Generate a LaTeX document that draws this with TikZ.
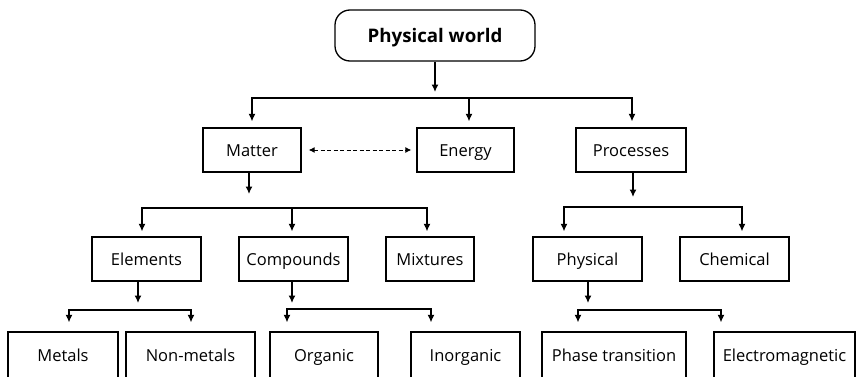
\documentclass[tikz,border=0pt]{standalone}
\usepackage{fontspec}
\setmainfont{Open Sans}
\usetikzlibrary{arrows.meta,positioning}

\begin{document}
\begin{tikzpicture}[
    x=1pt, y=1pt,
    >={Latex[length=7.5pt,width=7pt]},
    font=\fontsize{16.5}{20}\selectfont,
    block/.style={
		rectangle,
		draw=black,
		line width=1.3pt,
		text centered,
		text height=12pt,
		text depth=0pt,
		minimum height=44pt,
		inner sep=0pt,
		fill=white
	},
	root/.style={
		block,
		rounded corners=15pt,
		minimum width=200pt,
		minimum height=51pt,
		text height=13.5pt,
		font=\fontsize{18.7}{22}\selectfont\bfseries
	},
	leaf/.style={
		block,
		minimum height=46pt
	},
	link/.style={
		line width=1.3pt
	}
  ]
  \useasboundingbox (0,0) rectangle (856,376);

  % We start by placing the blocks
  \node [root] (world) at (435,340.5) {Physical world};

  \node [block, minimum width=98pt] (matter) at (252,226) {Matter};
  \node [block, minimum width=97pt] (energy) at (465.5,226) {Energy};
  \node [block, minimum width=110pt] (processes) at (631,226) {Processes};

  \node [block, minimum width=109pt] (elements) at (146.5,117) {Elements};
  \node [block, minimum width=109pt] (compounds) at (293.5,117) {Compounds};
  \node [block, minimum width=88pt] (mixtures) at (430,117) {Mixtures};
  \node [block, minimum width=109pt] (physical) at (587.5,117) {Physical};
  \node [block, minimum width=109pt] (chemical) at (734.5,117) {Chemical};

  \node [leaf, minimum width=110pt] (metals) at (63,21) {Metals};
  \node [leaf, minimum width=129pt] (nonmetals) at (190.5,21) {Non-metals};
  \node [leaf, minimum width=108pt] (organic) at (324,21) {Organic};
  \node [leaf, minimum width=109pt] (inorganic) at (465.5,21) {Inorganic};
  \node [leaf, minimum width=144pt] (phase) at (614,21) {Phase transition};
  \node [leaf, minimum width=141pt] (electro) at (784.5,21) {Electromagnetic};

  % the bars the arrows hang from
  \coordinate (bar1) at (435,278);
  \coordinate (bar2) at (249,168);
  \coordinate (bar3) at (633,169);
  \coordinate (bar4) at (138,66);
  \coordinate (bar5) at (292,67);
  \coordinate (bar6) at (588,66);

  % drops from the parents
  \draw [link,->, shorten >=6pt] (world.south) -- (bar1);
  \draw [link,->, shorten >=14pt] (matter.south -| bar2) -- (bar2);
  \draw [link,->, shorten >=10pt] (processes.south -| bar3) -- (bar3);
  \draw [link,->, shorten >=7pt] (elements.south -| bar4) -- (bar4);
  \draw [link,->, shorten >=6pt] (compounds.south -| bar5) -- (bar5);
  \draw [link,->, shorten >=7pt] (physical.south -| bar6) -- (bar6);

  % bars down to the children
  \draw [link,<->, shorten <=6pt, shorten >=6pt] (matter.north) |- (bar1) -| ([xshift=1pt]processes.north);
  \draw [link,<-, shorten <=6pt] ([xshift=3.5pt]energy.north) |- (bar1);

  \draw [link,<->, shorten <=5pt, shorten >=5pt] ([xshift=-4.5pt]elements.north) |- (bar2) -| ([xshift=-3pt]mixtures.north);
  \draw [link,<-, shorten <=5pt] ([xshift=-1.5pt]compounds.north) |- (bar2);

  \draw [link,<->, shorten <=5pt, shorten >=5pt] ([xshift=-23.5pt]physical.north) |- (bar3) -| ([xshift=7.5pt]chemical.north);

  \draw [link,<->, shorten <=9pt, shorten >=9pt] ([xshift=6pt]metals.north) |- (bar4) -| ([xshift=0.5pt]nonmetals.north);
  \draw [link,<->, shorten <=9pt, shorten >=9pt] ([xshift=-37pt]organic.north) |- (bar5) -| ([xshift=-34.5pt]inorganic.north);
  \draw [link,<->, shorten <=9pt, shorten >=9pt] ([xshift=-36pt]phase.north) |- (bar6) -| ([xshift=-63.5pt]electro.north);

  % matter and energy
  \draw [link,{Latex[length=6pt,width=6pt]}-{Latex[length=6pt,width=6pt]}, dash pattern=on 4pt off 2.5pt, line width=1pt, shorten <=7pt, shorten >=5pt] (matter.east) -- (energy.west);

\end{tikzpicture}
\end{document}
